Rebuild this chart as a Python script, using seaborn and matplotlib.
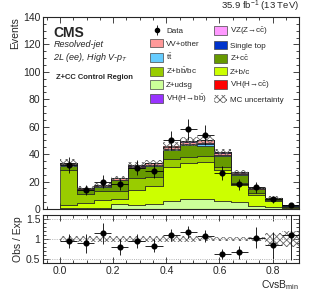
import numpy as np
import pandas as pd
import matplotlib
matplotlib.use("Agg")
import matplotlib.pyplot as plt
import seaborn as sns
from matplotlib.patches import Patch
from matplotlib.lines import Line2D
from matplotlib.ticker import MultipleLocator

# bins of CvsB_min (first bin below 0 is empty)
edges = np.linspace(0, 0.9, 15)

# stacked backgrounds, events per bin
z_udsg = [0.7, 0.7, 0.8, 3.4, 2.7, 3.6, 5.8, 7.1, 7.1, 5.8, 4.9, 2.4, 1.5, 0.4]
z_bc = [2.2, 3.5, 5.8, 3.9, 11.2, 13.0, 24.8, 26.2, 26.9, 22.5, 12.6, 7.8, 4.3, 1.0]
z_bb = [25.5, 6.5, 6.5, 6.0, 8.5, 7.0, 5.6, 4.8, 4.7, 2.5, 1.2, 1.2, 0.5, 0.3]
z_cc = [3.3, 3.2, 2.9, 7.5, 7.5, 7.8, 6.8, 8.6, 7.5, 8.0, 6.1, 3.0, 1.5, 0.8]
ttbar = [0.8, 0.6, 0.5, 0.5, 0.6, 0.6, 0.5, 0.4, 1.2, 0.6, 0.5, 0.3, 0.1, 0.05]
single_top = [0.4, 0.2, 0.2, 0.2, 0.2, 0.3, 0.2, 0.2, 0.6, 0.3, 0.2, 0.1, 0.05, 0.02]
vv_other = [0.6, 0.8, 0.7, 0.8, 0.9, 1.0, 1.6, 1.7, 2.0, 1.3, 1.0, 0.5, 0.2, 0.1]
vz_cc = [0.05, 0.05, 0.05, 0.1, 0.1, 0.1, 0.2, 0.2, 0.2, 0.2, 0.15, 0.1, 0.05, 0.02]
vh_bb = [0.1, 0.05, 0.05, 0.05, 0.05, 0.05, 0.05, 0.05, 0.05, 0.03, 0.02, 0.02, 0.01, 0.01]
vh_cc = [0.02, 0.02, 0.02, 0.03, 0.04, 0.05, 0.08, 0.1, 0.12, 0.1, 0.08, 0.05, 0.03, 0.01]

data = [32, 14, 20, 18, 30, 28, 50, 58, 54, 26, 18, 16, 7, 3]
mc_rel_unc = [0.08, 0.08, 0.08, 0.07, 0.07, 0.07, 0.07, 0.07, 0.05, 0.05, 0.05, 0.06, 0.15, 0.2]

# top of the stack first (seaborn stacks the first hue level on top)
procs = {
    "VH(H→c$\\bar{\\mathrm{c}}$)": (vh_cc, "#ff0000"),
    "VH(H→b$\\bar{\\mathrm{b}}$)": (vh_bb, "#9933ff"),
    "VZ(Z→c$\\bar{\\mathrm{c}}$)": (vz_cc, "#ff99ff"),
    "VV+other": (vv_other, "#ff9999"),
    "Single top": (single_top, "#0033cc"),
    "t$\\bar{\\mathrm{t}}$": (ttbar, "#66ccff"),
    "Z+c$\\bar{\\mathrm{c}}$": (z_cc, "#669900"),
    "Z+b$\\bar{\\mathrm{b}}$/bc": (z_bb, "#99cc00"),
    "Z+b/c": (z_bc, "#ccff00"),
    "Z+udsg": (z_udsg, "#ccff99"),
}

centers = 0.5 * (edges[:-1] + edges[1:])
bw = edges[1] - edges[0]
rows = []
for name, (vals, col) in procs.items():
    for c, v in zip(centers, vals):
        rows.append({"x": c, "w": v, "proc": name})
df = pd.DataFrame(rows)
palette = {k: v[1] for k, v in procs.items()}

total = np.sum([np.array(v[0]) for v in procs.values()], axis=0)
unc = total * np.array(mc_rel_unc)
data = np.array(data, dtype=float)
data_err = np.sqrt(data)

sns.set_style("ticks")
plt.rcParams["font.family"] = ["Liberation Sans", "DejaVu Sans"]
plt.rcParams["mathtext.fontset"] = "custom"
plt.rcParams["mathtext.rm"] = "Liberation Sans"
plt.rcParams["mathtext.it"] = "Liberation Sans:italic"
plt.rcParams["mathtext.bf"] = "Liberation Sans:bold"
plt.rcParams["hatch.linewidth"] = 0.6

fig = plt.figure(figsize=(3.12, 2.99), dpi=100)
ax = fig.add_axes([0.138, 0.301, 0.8205, 0.642])
rax = fig.add_axes([0.138, 0.120, 0.8205, 0.161])

sns.histplot(data=df, x="x", weights="w", hue="proc", hue_order=list(procs.keys()),
             palette=palette, bins=[float(e) for e in edges], multiple="stack",
             element="step", alpha=1, edgecolor="#222222", linewidth=0.5,
             legend=False, ax=ax)

# MC uncertainty band
hatch_col = "#666666"
ax.bar(centers, 2 * unc, bottom=total - unc, width=bw, fill=False,
       hatch="xxxxx", edgecolor=hatch_col, linewidth=0)
ax.errorbar(centers, data, yerr=data_err, xerr=bw / 2, fmt="o", color="black",
            ms=3.4, elinewidth=0.6, capsize=0)

ax.set_xlim(-bw, 0.9)
ax.set_ylim(0, 140)
ax.set_xlabel("")
ax.set_ylabel("Events", fontsize=7.5, loc="top", labelpad=2)
ax.yaxis.set_major_locator(MultipleLocator(20))
ax.yaxis.set_minor_locator(MultipleLocator(5))
ax.xaxis.set_major_locator(MultipleLocator(0.2))
ax.xaxis.set_minor_locator(MultipleLocator(0.05))
ax.tick_params(labelbottom=False)

for a in (ax, rax):
    a.tick_params(which="both", direction="in", top=True, right=True, width=0.6)
    a.tick_params(which="major", length=4, labelsize=7.5, pad=2)
    a.tick_params(which="minor", length=2)
    for s in a.spines.values():
        s.set_linewidth(0.8)

ax.text(0.04, 0.915, "CMS", transform=ax.transAxes, fontsize=10, fontweight="bold", va="center")
ax.text(0.04, 0.857, "Resolved-jet", transform=ax.transAxes, fontsize=6.5,
        style="italic", va="center")
ax.text(0.04, 0.79, "2L (ee), High V-$p_{T}$", transform=ax.transAxes, fontsize=6.5,
        style="italic", va="center")
ax.text(0.05, 0.684, "Z+CC Control Region", transform=ax.transAxes, fontsize=5.5,
        fontweight="bold", va="center")
ax.text(1.0, 1.015, "35.9 fb$^{-1}$ (13 TeV)", transform=ax.transAxes, fontsize=6.8,
        ha="right", va="bottom")

def box(name):
    return Patch(facecolor=palette[name], edgecolor="#444444", linewidth=0.5)

keys = list(procs.keys())
data_h = (Line2D([0], [0], marker="|", color="black", ms=7, mew=0.6, ls="none"),
          Line2D([0], [0], marker="o", color="black", ms=3, ls="none"))
unc_h = Patch(facecolor="none", edgecolor=hatch_col, hatch="xxxxx", linewidth=0)
handles = [data_h, box(keys[3]), box(keys[5]), box(keys[7]), box(keys[9]), box(keys[1]),
           box(keys[2]), box(keys[4]), box(keys[6]), box(keys[8]), box(keys[0]), unc_h]
labels = ["Data", keys[3], keys[5], keys[7], keys[9], keys[1],
          keys[2], keys[4], keys[6], keys[8], keys[0], "MC uncertainty"]
ax.legend(handles, labels, ncol=2, loc="upper left", bbox_to_anchor=(0.418, 0.955),
          frameon=False, fontsize=5.8, handlelength=1.6, handleheight=1.24,
          labelspacing=0.47, columnspacing=0.9, handletextpad=0.37,
          borderaxespad=0, borderpad=0)

# ratio panel
for yv in (0.5, 1.0, 1.5):
    rax.axhline(yv, color="#999999", lw=0.6, ls=":")
rel = np.array(mc_rel_unc)
rax.bar(centers, 2 * rel, bottom=1 - rel, width=bw, fill=False,
        hatch="xxxxx", edgecolor=hatch_col, linewidth=0)
rax.errorbar(centers, data / total, yerr=data_err / total, xerr=bw / 2, fmt="o",
             color="black", ms=3.4, elinewidth=0.6, capsize=0)
rax.set_xlim(-bw, 0.9)
rax.set_ylim(0.4, 1.6)
rax.set_yticks([0.5, 1.0, 1.5])
rax.set_yticklabels(["0.5", "1", "1.5"])
rax.yaxis.set_minor_locator(MultipleLocator(0.1))
rax.xaxis.set_major_locator(MultipleLocator(0.2))
rax.xaxis.set_minor_locator(MultipleLocator(0.05))
rax.set_ylabel("Obs / Exp", fontsize=7.5, labelpad=2)
rax.set_xlabel("CvsB$_{\\mathrm{min}}$", fontsize=7.5, loc="right", labelpad=2)

fig.savefig("out.png", dpi=100)
